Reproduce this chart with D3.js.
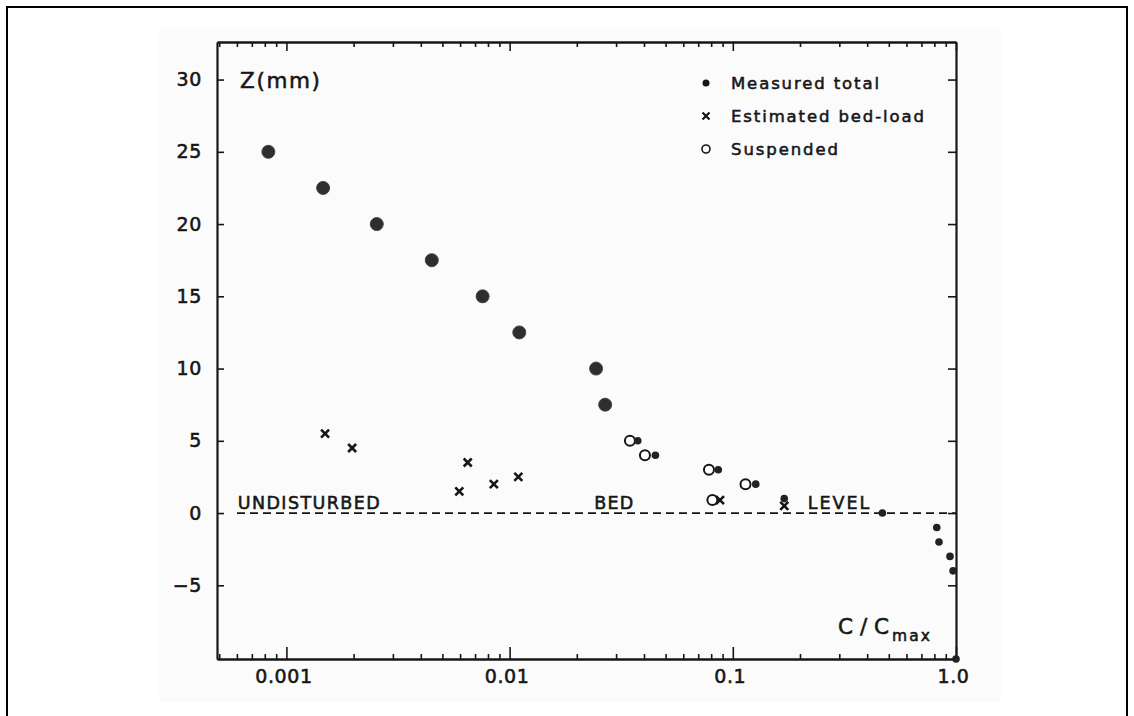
<!DOCTYPE html>
<html>
<head>
<meta charset="utf-8">
<script src="https://cdn.jsdelivr.net/npm/d3@7"></script>
<style>
  html, body { margin: 0; padding: 0; background: #fff; }
  svg { display: block; }
  text { font-family: "DejaVu Sans", "Liberation Sans", Arial, sans-serif; fill: #161616;
         stroke: #161616; stroke-width: 0.55px; }
</style>
</head>
<body>
<svg id="chart" width="1134" height="716"></svg>
<script>
// ---- data ----
const measuredBigC = [0.00083, 0.00146, 0.00254, 0.00448, 0.00757, 0.01105, 0.0244, 0.0268];
const measuredBigZ = [25, 22.5, 20, 17.5, 15, 12.5, 10, 7.5];
const measuredSmallC = [0.0375, 0.045, 0.0861, 0.1267, 0.170, 0.468, 0.82, 0.839, 0.94, 0.97, 1.0];
const measuredSmallZ = [5, 4, 3, 2, 1, 0, -1, -2, -3, -4, -10.1];
const bedLoadC = [0.00149, 0.00197, 0.00595, 0.00649, 0.0085, 0.01094, 0.0876, 0.170];
const bedLoadZ = [5.5, 4.5, 1.5, 3.5, 2.0, 2.5, 0.9, 0.5];
const suspendedC = [0.0346, 0.0404, 0.0782, 0.114, 0.081];
const suspendedZ = [5, 4, 3, 2, 0.9];
const yTicks = [-5, 0, 5, 10, 15, 20, 25, 30];
const yTickLabels = ["\u22125", "0", "5", "10", "15", "20", "25", "30"];
const xMajorTicks = [0.001, 0.01, 0.1, 1.0];
const xMajorLabels = ["0.001", "0.01", "0.1", "1.0"];
const legendLabels = ["Measured total", "Estimated bed-load", "Suspended"];
const regionLabels = ["UNDISTURBED", "BED", "LEVEL"];

const svg = d3.select("#chart");
const ink = "#161616";
const fontFam = "DejaVu Sans, Liberation Sans, Arial, sans-serif";

// outer frame + faint scan background
svg.append("rect").attr("x", 159).attr("y", 27).attr("width", 842).attr("height", 675).attr("fill", "#fbfbfb");
svg.append("rect").attr("x", 7).attr("y", 7).attr("width", 1120).attr("height", 730)
  .attr("fill", "none").attr("stroke", "#000").attr("stroke-width", 2);

const L = 217, R = 956, T = 42, B = 659;
const x = d3.scaleLog().domain([Math.pow(10, -3.311), 1]).range([L, R]);
const y = d3.scaleLinear().domain([-10.1, 32.6]).range([B, T]);

// minor log ticks
const minorTicks = [];
for (let e = -4; e <= -1; e++) {
  for (let m = 2; m <= 9; m++) {
    const v = m * Math.pow(10, e);
    if (v >= x.domain()[0] && v < 1) minorTicks.push(v);
  }
}

function styleAxis(g, sw) {
  g.selectAll(".domain").attr("stroke", ink).attr("stroke-width", sw);
  g.selectAll(".tick line").attr("stroke", ink).attr("stroke-width", 1.6);
}
function styleLabels(g) {
  g.selectAll(".tick text").attr("font-size", 19).attr("letter-spacing", 0.6).attr("fill", ink)
    .attr("font-family", fontFam).attr("stroke", ink).attr("stroke-width", 0.55);
}

// bottom axis
const gBm = svg.append("g").attr("transform", `translate(0,${B})`)
  .call(d3.axisBottom(x).tickValues(minorTicks).tickSize(-5).tickSizeOuter(0).tickFormat(""));
styleAxis(gBm, 2.2);
const gB = svg.append("g").attr("transform", `translate(0,${B})`)
  .call(d3.axisBottom(x).tickValues(xMajorTicks).tickSize(-12).tickSizeOuter(0).tickPadding(11)
    .tickFormat((d, i) => xMajorLabels[i]));
styleAxis(gB, 2.2);
styleLabels(gB);
gB.selectAll(".tick text").attr("dx", -3);

// top axis
const gTm = svg.append("g").attr("transform", `translate(0,${T})`)
  .call(d3.axisTop(x).tickValues(minorTicks).tickSize(-5).tickSizeOuter(0).tickFormat(""));
styleAxis(gTm, 2);
const gT = svg.append("g").attr("transform", `translate(0,${T})`)
  .call(d3.axisTop(x).tickValues(xMajorTicks).tickSize(-9).tickSizeOuter(0).tickFormat(""));
styleAxis(gT, 2);

// left axis
const gL = svg.append("g").attr("transform", `translate(${L},0)`)
  .call(d3.axisLeft(y).tickValues(yTicks).tickSize(-7).tickSizeOuter(0).tickPadding(15)
    .tickFormat((d, i) => yTickLabels[i]));
styleAxis(gL, 2.2);
styleLabels(gL);

// right axis
const gR = svg.append("g").attr("transform", `translate(${R},0)`)
  .call(d3.axisRight(y).tickValues(yTicks).tickSize(-8).tickSizeOuter(0).tickFormat(""));
styleAxis(gR, 2.2);

// dashed zero line
svg.append("line").attr("x1", 237).attr("x2", R).attr("y1", y(0)).attr("y2", y(0))
  .attr("stroke", ink).attr("stroke-width", 1.8).attr("stroke-dasharray", "8,5");

// region labels
const regionX = [237.7, 594.3, 807.7];
const regionW = [142, 39, 61.6];
svg.selectAll("text.region").data(regionLabels).enter().append("text")
  .attr("class", "region")
  .attr("x", (d, i) => regionX[i]).attr("y", 509)
  .attr("font-size", 17.5).attr("textLength", (d, i) => regionW[i]).attr("lengthAdjust", "spacing")
  .text(d => d);

// axis titles
svg.append("text").attr("x", 240).attr("y", 88).attr("font-size", 21.5)
  .attr("textLength", 80).attr("lengthAdjust", "spacing").text("Z(mm)");
svg.append("text").attr("x", 838).attr("y", 634).attr("font-size", 21.5)
  .attr("textLength", 51).attr("lengthAdjust", "spacing").text("C/C");
svg.append("text").attr("x", 892).attr("y", 641).attr("font-size", 15.5)
  .attr("textLength", 38).attr("lengthAdjust", "spacing").text("max");

// data marks
const big = measuredBigC.map((c, i) => ({c, z: measuredBigZ[i]}));
const small = measuredSmallC.map((c, i) => ({c, z: measuredSmallZ[i]}));
const bed = bedLoadC.map((c, i) => ({c, z: bedLoadZ[i]}));
const susp = suspendedC.map((c, i) => ({c, z: suspendedZ[i]}));

svg.append("g").selectAll("circle").data(susp).enter().append("circle")
  .attr("cx", d => x(d.c)).attr("cy", d => y(d.z)).attr("r", 5)
  .attr("fill", "#fff").attr("stroke", ink).attr("stroke-width", 2);

const crossPath = s => `M${-s},${-s}L${s},${s}M${-s},${s}L${s},${-s}`;
svg.append("g").selectAll("path").data(bed).enter().append("path")
  .attr("transform", d => `translate(${x(d.c)},${y(d.z)})`)
  .attr("d", crossPath(4)).attr("stroke", ink).attr("stroke-width", 2.6).attr("fill", "none");

svg.append("g").selectAll("circle").data(big).enter().append("circle")
  .attr("cx", d => x(d.c)).attr("cy", d => y(d.z)).attr("r", 6.5)
  .attr("fill", "#2e2e2e").attr("stroke", "#444").attr("stroke-width", 1);

svg.append("g").selectAll("circle").data(small).enter().append("circle")
  .attr("cx", d => x(d.c)).attr("cy", d => y(d.z)).attr("r", 3.8)
  .attr("fill", "#222");

// legend
const legY = [83, 116, 149];
const legW = [148, 193, 107];
const lg = svg.append("g");
lg.append("circle").attr("cx", 706).attr("cy", legY[0]).attr("r", 3.5).attr("fill", ink);
lg.append("path").attr("transform", `translate(706,${legY[1]})`).attr("d", crossPath(3.5))
  .attr("stroke", ink).attr("stroke-width", 2.2);
lg.append("circle").attr("cx", 706).attr("cy", legY[2]).attr("r", 4).attr("fill", "none")
  .attr("stroke", ink).attr("stroke-width", 1.6);
lg.selectAll("text").data(legendLabels).enter().append("text")
  .attr("x", 731).attr("y", (d, i) => legY[i] + 6)
  .attr("font-size", 16.5).attr("textLength", (d, i) => legW[i]).attr("lengthAdjust", "spacing")
  .text(d => d);
</script>
</body>
</html>
